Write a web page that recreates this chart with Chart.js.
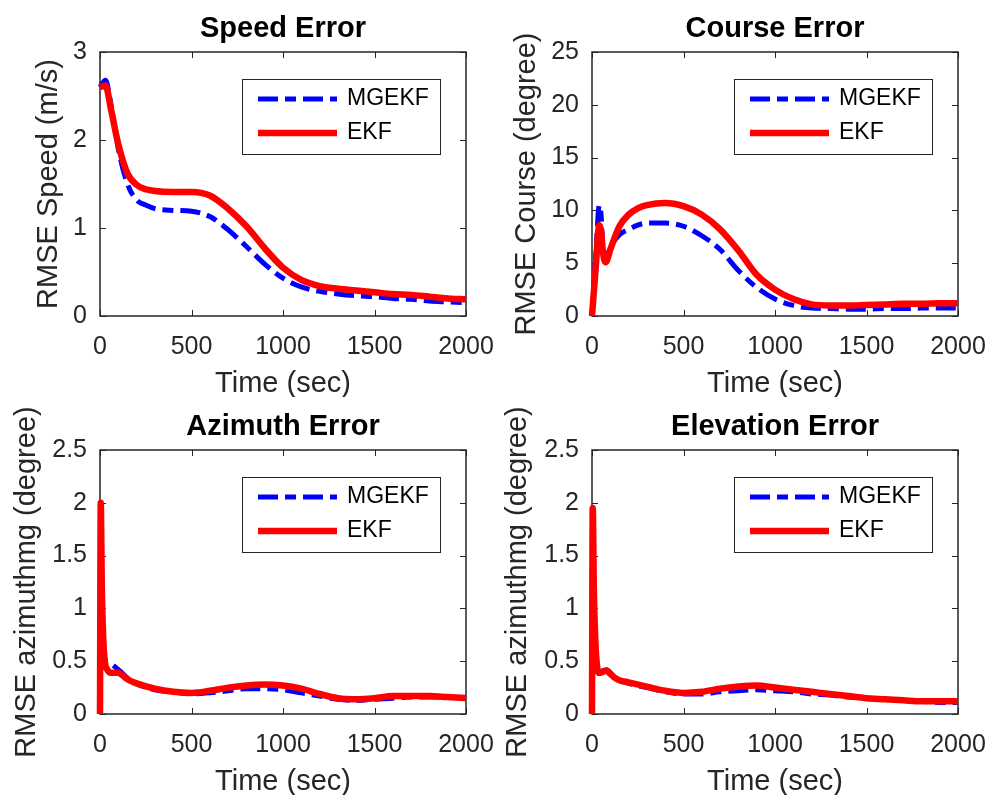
<!DOCTYPE html>
<html>
<head>
<meta charset="utf-8">
<script src="https://cdn.jsdelivr.net/npm/chart.js@4/dist/chart.umd.min.js"></script>
<style>
  html, body { margin: 0; padding: 0; background: #fff; }
  body { width: 987px; height: 795px; position: relative; overflow: hidden; }
  canvas { position: absolute; }
</style>
</head>
<body>
<canvas id="speed" width="500" height="397" style="left:0;top:0"></canvas>
<canvas id="course" width="500" height="397" style="left:492px;top:0"></canvas>
<canvas id="azimuth" width="500" height="397" style="left:0;top:398px"></canvas>
<canvas id="elevation" width="500" height="397" style="left:492px;top:398px"></canvas>
<script>
// RMSE curves, time in seconds
const speedTime  = [0, 30, 60, 100, 150, 200, 250, 300, 400, 500, 600, 700, 800, 900, 1000, 1100, 1200, 1300, 1400, 1500, 1600, 1700, 1800, 1900, 2000];
const speedMgekf = [2.6, 2.68, 2.4, 1.9, 1.5, 1.32, 1.26, 1.22, 1.2, 1.19, 1.13, 0.98, 0.79, 0.59, 0.43, 0.33, 0.28, 0.25, 0.23, 0.22, 0.2, 0.19, 0.17, 0.16, 0.15];
const speedEkf   = [2.6, 2.62, 2.35, 1.95, 1.62, 1.49, 1.44, 1.42, 1.41, 1.41, 1.37, 1.22, 1.02, 0.77, 0.55, 0.41, 0.34, 0.31, 0.29, 0.27, 0.25, 0.24, 0.22, 0.2, 0.19];

const courseTime  = [0, 20, 40, 50, 60, 75, 100, 150, 200, 250, 300, 400, 500, 600, 700, 800, 900, 1000, 1100, 1200, 1300, 1400, 1500, 1600, 1700, 1800, 1900, 2000];
const courseMgekf = [0, 5.5, 10.5, 9.5, 6.0, 5.5, 6.5, 7.7, 8.2, 8.6, 8.8, 8.8, 8.5, 7.6, 6.3, 4.3, 2.7, 1.6, 1.0, 0.75, 0.7, 0.65, 0.65, 0.7, 0.7, 0.75, 0.75, 0.75];
const courseEkf   = [0, 4.5, 8.6, 8.0, 6.0, 5.1, 6.3, 8.5, 9.6, 10.2, 10.5, 10.7, 10.4, 9.6, 8.2, 6.2, 3.9, 2.5, 1.6, 1.1, 1.0, 1.0, 1.05, 1.1, 1.15, 1.15, 1.2, 1.2];

const azimuthTime  = [0, 4, 10, 18, 28, 40, 60, 80, 100, 120, 150, 200, 300, 400, 500, 600, 700, 800, 900, 1000, 1100, 1200, 1300, 1400, 1500, 1600, 1700, 1800, 1900, 2000];
const azimuthMgekf = [0, 1.9, 1.15, 0.7, 0.5, 0.46, 0.47, 0.45, 0.42, 0.39, 0.34, 0.29, 0.23, 0.21, 0.19, 0.2, 0.22, 0.24, 0.24, 0.23, 0.2, 0.17, 0.14, 0.13, 0.14, 0.15, 0.16, 0.16, 0.16, 0.15];
const azimuthEkf   = [0, 2.0, 1.2, 0.7, 0.48, 0.42, 0.39, 0.39, 0.39, 0.37, 0.33, 0.29, 0.24, 0.21, 0.2, 0.22, 0.25, 0.27, 0.28, 0.27, 0.24, 0.19, 0.15, 0.14, 0.15, 0.17, 0.17, 0.17, 0.16, 0.15];

const elevationTime  = [0, 4, 10, 18, 28, 40, 60, 80, 100, 120, 150, 200, 300, 400, 500, 600, 700, 800, 900, 1000, 1100, 1200, 1300, 1400, 1500, 1600, 1700, 1800, 1900, 2000];
const elevationMgekf = [0, 1.9, 1.15, 0.7, 0.45, 0.4, 0.41, 0.42, 0.39, 0.35, 0.32, 0.29, 0.25, 0.21, 0.19, 0.19, 0.21, 0.22, 0.23, 0.22, 0.21, 0.19, 0.18, 0.16, 0.15, 0.14, 0.13, 0.12, 0.11, 0.11];
const elevationEkf   = [0, 1.95, 1.2, 0.7, 0.45, 0.39, 0.4, 0.41, 0.38, 0.35, 0.32, 0.3, 0.26, 0.22, 0.2, 0.21, 0.24, 0.26, 0.27, 0.25, 0.23, 0.21, 0.19, 0.17, 0.15, 0.14, 0.13, 0.12, 0.12, 0.12];

const seriesNames = ["MGEKF", "EKF"];
const xLabel = "Time (sec)";

Chart.defaults.font.family = "'Liberation Sans', Arial, sans-serif";
Chart.defaults.color = "#262626";

const AXIS = "#262626";

// full box around the plot with ticks pointing inward on all four sides,
// drawn underneath the curves
const boxAxes = {
  id: "boxAxes",
  beforeDatasetsDraw(chart) {
    const { ctx, chartArea: a, scales } = chart;
    const len = 6;
    ctx.save();
    ctx.strokeStyle = AXIS;
    ctx.lineWidth = 1;
    ctx.beginPath();
    scales.x.ticks.forEach(t => {
      const px = Math.round(scales.x.getPixelForValue(t.value)) + 0.5;
      ctx.moveTo(px, a.bottom); ctx.lineTo(px, a.bottom - len);
      ctx.moveTo(px, a.top); ctx.lineTo(px, a.top + len);
    });
    scales.y.ticks.forEach(t => {
      const py = Math.round(scales.y.getPixelForValue(t.value)) + 0.5;
      ctx.moveTo(a.left, py); ctx.lineTo(a.left + len, py);
      ctx.moveTo(a.right, py); ctx.lineTo(a.right - len, py);
    });
    ctx.stroke();
    ctx.lineWidth = 1.5;
    ctx.strokeRect(a.left, a.top, a.right - a.left, a.bottom - a.top);
    ctx.restore();
  }
};

// rotated y label, drawn without the width limit of the scale title;
// offset is the distance from the plot's left edge to the text baseline
const yTitle = {
  id: "yTitle",
  afterDraw(chart, args, opts) {
    const { ctx, chartArea: a } = chart;
    ctx.save();
    ctx.translate(a.left - opts.offset, (a.top + a.bottom) / 2);
    ctx.rotate(-Math.PI / 2);
    ctx.font = "29px 'Liberation Sans', Arial, sans-serif";
    ctx.fillStyle = AXIS;
    ctx.textAlign = "center";
    ctx.textBaseline = "alphabetic";
    ctx.fillText(opts.text, 0, 0);
    ctx.restore();
  }
};

// legend in a framed box at the upper right of the plot
const boxLegend = {
  id: "boxLegend",
  afterDraw(chart) {
    const { ctx, chartArea: a } = chart;
    const x0 = a.left + 142, y0 = a.top + 27, w = 198, h = 75;
    ctx.save();
    ctx.fillStyle = "#fff";
    ctx.fillRect(x0, y0, w, h);
    ctx.strokeStyle = AXIS;
    ctx.lineWidth = 1;
    ctx.strokeRect(x0 + 0.5, y0 + 0.5, w, h);
    chart.data.datasets.forEach((ds, i) => {
      const y = y0 + 20 + i * 34;
      ctx.beginPath();
      ctx.setLineDash(ds.borderDash || []);
      ctx.lineWidth = ds.borderWidth;
      ctx.strokeStyle = ds.borderColor;
      ctx.moveTo(x0 + 16, y);
      ctx.lineTo(x0 + 95, y);
      ctx.stroke();
      ctx.setLineDash([]);
      ctx.fillStyle = "#000";
      ctx.font = "23px 'Liberation Sans', Arial, sans-serif";
      ctx.textBaseline = "middle";
      ctx.fillText(ds.label, x0 + 105, y);
    });
    ctx.restore();
  }
};

function makeChart(id, title, yText, yTitleOffset, time, mgekf, ekf, yMax, yStep) {
  const toPoints = vals => vals.map((v, i) => ({ x: time[i], y: v }));
  return new Chart(document.getElementById(id), {
    type: "line",
    data: {
      datasets: [
        {
          label: seriesNames[0],
          data: toPoints(mgekf),
          borderColor: "#0000ff",
          borderWidth: 5,
          borderDash: [20, 7, 11, 7],
          clip: 8,
          order: 2
        },
        {
          label: seriesNames[1],
          data: toPoints(ekf),
          borderColor: "#ff0000",
          borderWidth: 6.5,
          clip: 8,
          order: 1
        }
      ]
    },
    options: {
      responsive: false,
      animation: false,
      events: [],
      cubicInterpolationMode: "monotone",
      elements: { point: { radius: 0 } },
      layout: { padding: { left: 0, right: 34, top: 0, bottom: 0 } },
      scales: {
        x: {
          type: "linear",
          min: 0,
          max: 2000,
          grid: { display: false, drawTicks: false },
          border: { display: false },
          ticks: {
            stepSize: 500,
            padding: 16,
            maxRotation: 0,
            font: { size: 25 },
            color: AXIS,
            callback: v => String(v)
          },
          title: {
            display: true,
            text: xLabel,
            color: AXIS,
            font: { size: 29, lineHeight: 1 },
            padding: { top: 0, bottom: -1 }
          },
          afterFit(scale) {
            scale.height = 81;
            scale.paddingLeft = 0;
            scale.paddingRight = 0;
          }
        },
        y: {
          min: 0,
          max: yMax,
          grid: { display: false, drawTicks: false },
          border: { display: false },
          ticks: {
            stepSize: yStep,
            padding: 13,
            font: { size: 25 },
            color: AXIS,
            callback: v => String(Math.round(v * 100) / 100)
          },
          afterFit(scale) {
            scale.width = 100;
            scale.paddingTop = 0;
            scale.paddingBottom = 0;
          }
        }
      },
      plugins: {
        legend: { display: false },
        tooltip: { enabled: false },
        title: {
          display: true,
          text: title,
          fullSize: false,
          color: "#000",
          font: { size: 29, weight: "bold", lineHeight: 1.2 },
          padding: { top: 12, bottom: 5.2 }
        },
        yTitle: { text: yText, offset: yTitleOffset }
      }
    },
    plugins: [boxAxes, yTitle, boxLegend]
  });
}

makeChart("speed", "Speed Error", "RMSE Speed (m/s)", 43, speedTime, speedMgekf, speedEkf, 3, 1);
makeChart("course", "Course Error", "RMSE Course (degree)", 57, courseTime, courseMgekf, courseEkf, 25, 5);
makeChart("azimuth", "Azimuth Error", "RMSE azimuthmg (degree)", 65, azimuthTime, azimuthMgekf, azimuthEkf, 2.5, 0.5);
makeChart("elevation", "Elevation Error", "RMSE azimuthmg (degree)", 66, elevationTime, elevationMgekf, elevationEkf, 2.5, 0.5);
</script>
</body>
</html>
